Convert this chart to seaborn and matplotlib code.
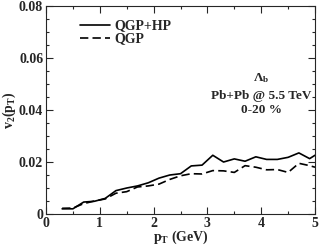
import matplotlib
matplotlib.use('Agg')
import matplotlib.pyplot as plt
import seaborn as sns
import pandas as pd
from matplotlib.ticker import MultipleLocator, FixedLocator, FixedFormatter

pt = [0.3, 0.5, 0.7, 0.9, 1.1, 1.3, 1.5, 1.7, 1.9, 2.1, 2.3, 2.5, 2.7, 2.9,
      3.1, 3.3, 3.5, 3.7, 3.9, 4.1, 4.3, 4.5, 4.7, 4.9, 5.0]
v2_qgp_hp = [0.0020, 0.0020, 0.0046, 0.0049, 0.0060, 0.0090, 0.0100, 0.0108,
             0.0120, 0.0138, 0.0150, 0.0155, 0.0185, 0.0188, 0.0226, 0.0200,
             0.0212, 0.0203, 0.0220, 0.0210, 0.0210, 0.0218, 0.0235, 0.0213, 0.0226]
v2_qgp = [0.0022, 0.0023, 0.0040, 0.0050, 0.0058, 0.0080, 0.0086, 0.0104,
          0.0108, 0.0115, 0.0133, 0.0147, 0.0155, 0.0154, 0.0167, 0.0166,
          0.0160, 0.0186, 0.0180, 0.0170, 0.0171, 0.0160, 0.0195, 0.0186, 0.0180]
xticks = [0, 1, 2, 3, 4, 5]
xtick_labels = ['0', '1', '2', '3', '4', '5']
yticks = [0, 0.02, 0.04, 0.06, 0.08]
ytick_labels = ['0', '0.02', '0.04', '0.06', '0.08']

df = pd.DataFrame({'pt': pt + pt,
                   'v2': v2_qgp_hp + v2_qgp,
                   'model': ['QGP+HP'] * len(pt) + ['QGP'] * len(pt)})

sns.set_style('ticks')
plt.rcParams['font.family'] = ['Liberation Serif', 'DejaVu Serif']
plt.rcParams['font.weight'] = 'bold'
plt.rcParams['mathtext.fontset'] = 'custom'
plt.rcParams['mathtext.rm'] = 'Liberation Serif:bold'
plt.rcParams['mathtext.it'] = 'Liberation Serif:bold'
plt.rcParams['mathtext.bf'] = 'Liberation Serif:bold'

fig = plt.figure(figsize=(3.19, 2.46), dpi=100)
ax = fig.add_axes([0.1442, 0.130, 0.8433, 0.8456])

sns.lineplot(data=df, x='pt', y='v2', hue='model', style='model',
             palette={'QGP+HP': 'black', 'QGP': 'black'},
             dashes={'QGP+HP': '', 'QGP': (5, 2.5)}, linewidth=1.2, ax=ax)

ax.set_xlim(0, 5)
ax.set_ylim(0, 0.08)
ax.xaxis.set_major_locator(FixedLocator(xticks))
ax.xaxis.set_major_formatter(FixedFormatter(xtick_labels))
ax.xaxis.set_minor_locator(MultipleLocator(0.5))
ax.yaxis.set_major_locator(FixedLocator(yticks))
ax.yaxis.set_major_formatter(FixedFormatter(ytick_labels))
ax.yaxis.set_minor_locator(MultipleLocator(0.005))
ax.tick_params(which='both', direction='in', top=True, right=True,
               labelsize=10, pad=2)
ax.tick_params(which='major', length=5, width=0.8)
ax.tick_params(which='minor', length=2.5, width=0.8)
for s in ax.spines.values():
    s.set_linewidth(0.8)

ax.set_xlabel(r'p$_\mathregular{T}$ (GeV)', fontsize=10, fontweight='bold', labelpad=-1)
ax.set_ylabel(r'v$_\mathregular{2}$(p$_\mathregular{T}$)', fontsize=10, fontweight='bold', labelpad=1)

leg = ax.legend(loc='upper left', bbox_to_anchor=(0.095, 0.975), frameon=False,
                fontsize=10, handlelength=2.2, handletextpad=0.3, labelspacing=0.0,
                title=None, borderaxespad=0.2)
for t in leg.get_texts():
    t.set_fontweight('bold')

ax.text(0.80, 0.64, r'$\Lambda_\mathregular{b}$', transform=ax.transAxes,
        ha='center', fontsize=9.5)
ax.text(0.80, 0.555, 'Pb+Pb @ 5.5 TeV', transform=ax.transAxes,
        ha='center', fontsize=9.5, fontweight='bold')
ax.text(0.80, 0.485, '0-20 %', transform=ax.transAxes,
        ha='center', fontsize=9.5, fontweight='bold')

fig.savefig('out.png', dpi=100)
